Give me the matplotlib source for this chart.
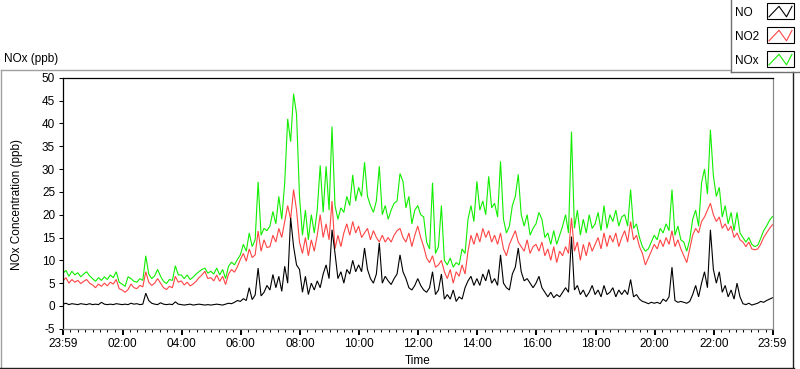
import numpy as np
import matplotlib
matplotlib.use("Agg")
import matplotlib.pyplot as plt
from matplotlib.lines import Line2D
from matplotlib.patches import Rectangle

# ---- data: 6-minute samples from 23:59 (previous day) to 23:59 ----
no_ppb = [
    0.4, 0.6, 0.3, 0.5, 0.4, 0.3, 0.5, 0.4, 0.3, 0.5,
    0.3, 0.4, 0.3, 0.8, 0.4, 0.3, 0.4, 0.3, 0.5, 0.4,
    0.3, 0.4, 0.3, 0.6, 0.4, 0.5, 0.3, 0.4, 2.8, 1.2,
    0.6, 0.4, 0.3, 0.7, 0.4, 0.3, 0.4, 0.3, 0.9, 0.4,
    0.3, 0.2, 0.3, 0.4, 0.2, 0.3, 0.4, 0.3, 0.2, 0.3,
    0.2, 0.3, 0.4, 0.3, 0.2, 0.4, 0.6, 0.5, 0.8, 1.2,
    1.0, 1.6, 1.2, 4.0, 1.4, 2.4, 8.3, 2.2, 3.0, 4.5,
    3.5, 6.9, 4.0, 6.5, 3.2, 8.7, 5.0, 19.3, 13.0, 9.0,
    8.0, 3.0, 6.5, 2.5, 5.0, 3.5, 5.5, 4.0, 7.0, 9.0,
    6.0, 16.7, 11.6, 6.0, 7.5, 5.0, 8.0, 7.0, 10.0, 7.5,
    9.0, 7.5, 12.7, 8.0, 6.0, 5.0, 7.0, 13.8, 5.0, 6.5,
    5.5, 4.7, 6.0, 7.0, 11.2, 7.5, 6.0, 4.0, 3.5, 4.5,
    6.0, 4.5, 3.5, 3.0, 4.0, 7.5, 2.5, 3.5, 7.0, 1.5,
    2.5, 1.5, 3.5, 1.0, 2.0, 1.5, 4.0, 5.5, 6.5, 4.5,
    6.0, 4.5, 7.0, 5.5, 8.0, 5.0, 6.0, 4.5, 11.2, 5.0,
    4.0, 3.5, 7.0, 8.5, 12.7, 7.5, 5.5, 6.0, 5.0, 4.0,
    5.0, 6.5, 4.0, 3.0, 2.0, 3.0, 1.8, 2.5, 2.0, 3.0,
    4.0, 3.0, 15.2, 3.5, 4.5, 2.5, 3.5, 2.0, 3.0, 4.5,
    2.5, 3.5, 2.0, 4.5, 2.5, 3.0, 4.0, 2.0, 3.5, 2.5,
    3.5, 2.5, 5.8, 2.0, 2.5, 1.5, 1.0, 0.8, 0.5, 0.8,
    0.6, 0.8, 0.5, 1.5, 1.0, 2.0, 8.5, 1.2, 0.8, 1.0,
    0.8, 0.6, 1.0, 2.5, 4.5, 2.0, 5.0, 7.5, 4.0, 16.7,
    8.0, 5.0, 7.5, 3.0, 4.5, 2.0, 3.5, 1.5, 5.0, 2.0,
    0.5, 0.3, 0.6, 0.2, 0.4, 0.6, 1.0, 0.8, 1.2, 1.5,
    1.8,
]
no2_ppb = [
    5.5, 6.2, 5.0, 5.8, 5.2, 5.6, 4.9, 5.4, 5.8, 5.0,
    4.6, 4.0, 4.8, 4.3, 5.0, 4.4, 5.2, 4.8, 5.8, 3.8,
    3.5, 3.0, 3.6, 4.8, 4.0, 3.8, 4.5, 4.2, 7.5, 5.2,
    4.5, 5.0, 6.0, 5.0, 4.0, 3.6, 4.3, 4.0, 6.5, 5.2,
    5.5, 4.6, 5.2, 4.4, 4.8, 5.4, 6.2, 6.8, 7.6, 6.0,
    6.2, 5.5, 6.8, 5.4, 6.5, 4.7, 7.0, 8.0, 7.4, 8.6,
    10.2, 11.5, 9.8, 12.5, 10.6, 11.2, 16.4, 12.0, 14.5, 12.8,
    13.0, 15.5, 14.0, 17.0, 15.0, 18.5, 22.0, 19.0, 25.5, 21.0,
    14.0, 11.5, 15.0, 11.0, 14.5, 12.0, 15.5, 20.0, 15.0, 18.0,
    14.5, 23.0, 12.5, 15.5, 13.0, 16.0, 18.0, 15.5, 18.5, 16.0,
    17.5, 15.0, 16.0, 17.0, 14.5, 16.5, 15.0, 14.0, 15.5, 14.0,
    15.0, 14.0, 15.5, 16.5, 17.0, 15.0, 14.0, 16.0, 13.0, 15.5,
    17.5, 15.0, 13.0, 10.5, 9.5, 11.0, 8.5, 9.0, 10.0, 7.5,
    6.0, 8.0, 5.0, 7.5, 6.5, 9.0, 7.0, 12.0, 15.5, 13.5,
    16.0, 14.0, 17.0, 15.0, 16.5, 14.0, 15.5, 13.5, 16.0, 12.5,
    11.0, 13.5, 15.0, 16.5, 14.0, 13.0, 12.0, 14.5, 11.5, 13.0,
    13.5, 12.0, 14.0, 11.0, 12.5, 10.0, 13.0, 9.5, 12.0, 11.0,
    13.0, 11.5, 19.3, 12.0, 14.0, 10.0, 13.5, 11.0, 14.0, 12.0,
    13.5, 15.0, 12.5, 16.0, 13.0, 15.5, 14.0, 16.0, 13.0, 15.0,
    16.5, 14.0, 18.5, 14.5, 15.5, 13.0, 11.5, 9.0, 10.5, 12.0,
    13.5, 12.5, 14.5, 13.0, 15.0, 13.5, 16.5, 13.0, 14.5, 12.5,
    11.0, 9.5, 12.5, 15.5, 17.0, 16.0, 18.5, 19.5, 21.0, 22.5,
    20.0, 18.5, 19.5, 17.0, 18.0, 16.5, 17.5, 15.0, 16.0, 14.5,
    14.0, 13.0, 14.0, 12.5, 12.3, 12.5, 13.5, 15.0, 16.0, 17.0,
    17.8,
]
nox_ppb = [
    7.2, 7.8, 6.5, 7.6, 6.8, 7.3, 6.4, 7.0, 7.5, 6.6,
    6.0, 5.4, 6.2, 5.6, 6.4, 5.8, 6.8, 6.2, 7.5, 5.2,
    4.8, 4.3, 6.4, 6.0, 5.4, 5.2, 6.0, 5.6, 11.0, 7.0,
    6.0, 6.6, 8.0, 6.5, 5.4, 4.9, 5.8, 5.6, 8.8, 6.8,
    6.8, 6.0, 6.8, 5.8, 6.3, 7.0, 7.5, 8.0, 8.3, 7.2,
    7.6, 7.0, 8.3, 6.8, 8.0, 6.0, 8.7, 9.6, 9.0, 10.2,
    11.2, 13.5, 12.0, 16.0, 13.0, 14.5, 27.2, 15.5, 17.0, 16.5,
    17.5, 20.7, 18.0, 24.0, 19.0, 27.0, 41.0, 36.0, 46.5, 42.0,
    24.0, 15.5, 21.0, 14.5, 20.0, 16.0, 21.0, 30.8, 20.5, 30.6,
    21.0, 39.3, 22.0, 19.0, 21.5, 20.5, 24.0, 22.0, 28.7, 23.0,
    26.0, 24.0, 31.5, 24.0, 22.0, 20.5, 23.0, 30.6, 20.0, 22.0,
    19.0, 21.0, 22.5, 23.0, 29.0, 27.3, 21.5, 24.0, 18.0, 21.0,
    22.0, 20.0, 19.5, 14.0, 12.5, 27.0, 11.5, 13.0, 22.0, 10.0,
    9.0, 10.5, 8.5, 9.5, 9.0, 12.5, 11.5, 19.0, 22.0, 18.5,
    27.3, 21.0, 23.0, 20.0, 28.4, 21.5, 22.5, 19.5, 31.7, 19.0,
    16.0, 17.5, 22.0, 24.0, 28.8, 20.0, 17.5, 20.0, 15.5, 17.0,
    18.0, 20.5, 19.0, 15.0, 16.0, 13.5, 16.5, 13.5, 15.5, 17.5,
    20.0, 16.0, 38.2, 17.0, 21.0, 15.5, 19.0, 16.0, 20.0, 17.0,
    18.0, 20.5, 16.5, 22.0, 17.0, 20.0, 18.5, 21.0, 17.5, 19.5,
    20.0, 17.5, 25.5, 17.0, 18.0, 15.0, 13.0, 12.0, 12.5, 14.0,
    15.5, 14.5, 17.0, 16.0, 18.0, 16.5, 25.5, 15.5, 17.5, 14.5,
    14.0, 12.0, 14.5, 19.0, 21.0, 17.5, 27.0, 30.0, 24.5, 38.6,
    28.5, 24.0, 26.0, 19.5, 22.0, 18.0, 20.5, 16.5, 20.5, 16.0,
    15.0, 14.0, 15.0, 13.5, 13.0, 13.3, 14.8, 16.5, 17.5, 18.8,
    19.6,
]
start_hour = -1 / 60          # 23:59 of the previous day
sample_step_hours = 0.1       # 6 minutes
end_hour = 23 + 59 / 60

x_tick_hours = [start_hour, 2, 4, 6, 8, 10, 12, 14, 16, 18, 20, 22, end_hour]
x_tick_labels = ["23:59", "02:00", "04:00", "06:00", "08:00", "10:00", "12:00",
                 "14:00", "16:00", "18:00", "20:00", "22:00", "23:59"]
y_ticks = [-5, 0, 5, 10, 15, 20, 25, 30, 35, 40, 45, 50]

series_names = ["NO", "NO2", "NOx"]
series_colors = ["#000000", "#ff4444", "#11ee00"]

# ---- figure ----
W, H = 800, 369
fig = plt.figure(figsize=(W / 100, H / 100), dpi=100)
fig.patch.set_facecolor("white")
FONT = "Liberation Sans"


def fx(px):
    return px / W


def fy(py):
    return 1 - py / H


time_h = start_hour + sample_step_hours * np.arange(len(no_ppb))

ax_left, ax_right, ax_top, ax_bot = 63, 772.5, 77.75, 328.8
ax = fig.add_axes([fx(ax_left), fy(ax_bot), fx(ax_right) - fx(ax_left),
                   fy(ax_top) - fy(ax_bot)])

series = {"NO": no_ppb, "NO2": no2_ppb, "NOx": nox_ppb}
for name in ["NOx", "NO2", "NO"]:
    c = series_colors[series_names.index(name)]
    ax.plot(time_h, series[name], color=c, lw=0.8, solid_joinstyle="miter")

ax.set_xlim(start_hour, end_hour)
ax.set_ylim(-5, 50)

ax.set_yticks(y_ticks)
ax.set_yticklabels([str(v) for v in y_ticks], fontfamily=FONT, fontsize=8.5)
ax.set_xticks(x_tick_hours)
ax.set_xticklabels(x_tick_labels, fontfamily=FONT, fontsize=8.5)

minor = []
bounds = x_tick_hours
for a, b in zip(bounds[:-1], bounds[1:]):
    for k in range(1, 8):
        minor.append(a + 0.25 * k)
ax.set_xticks(minor, minor=True)

ax.tick_params(axis="y", direction="out", length=3.2, width=0.75, pad=2.5,
               colors="black")
ax.tick_params(axis="x", which="major", direction="out", length=4.3, width=1.4,
               pad=2.2, colors="black")
ax.tick_params(axis="x", which="minor", direction="out", length=2.4, width=0.75,
               colors="black")

ax.spines["left"].set_color("black")
ax.spines["top"].set_color("black")
ax.spines["right"].set_color("#8a8a8a")
ax.spines["bottom"].set_color("#8a8a8a")
for s in ax.spines.values():
    s.set_linewidth(0.9)

fig.text(fx(17), fy(205), "NOx Concentration (ppb)", rotation=90,
         ha="center", va="center", fontfamily=FONT, fontsize=8.5)
fig.text(fx(418), fy(361), "Time", ha="center", va="center",
         fontfamily=FONT, fontsize=8.5)
fig.text(fx(4), fy(59), "NOx (ppb)", ha="left", va="center",
         fontfamily=FONT, fontsize=8.5)

# outer frame
def fline(x0, y0, x1, y1, color, lw=1.0):
    fig.add_artist(Line2D([fx(x0), fx(x1)], [fy(y0), fy(y1)],
                          transform=fig.transFigure, color=color, lw=lw))

fline(0.5, 69.5, 730, 69.5, "#a0a0a0")
fline(0.5, 69.5, 0.5, 368, "#a0a0a0")
fline(0, 367.7, 794, 367.7, "#202020")
fline(793.3, 72, 793.3, 368, "#202020")

# legend box
fig.add_artist(Rectangle((fx(730), fy(72)), fx(800) - fx(730), fy(0) - fy(72),
                         transform=fig.transFigure, facecolor="white",
                         edgecolor="none"))
fline(730.5, 0, 730.5, 72, "#707070")
fline(730.5, 71.7, 800, 71.7, "#707070")

box_tops = [3.3, 27.3, 51.3]
label_y = [13.3, 37, 60.5]
for name, col, top, ly in zip(series_names, series_colors, box_tops, label_y):
    fig.text(fx(735), fy(ly), name, ha="left", va="center",
             fontfamily=FONT, fontsize=8.5)
    fig.add_artist(Rectangle((fx(766.7), fy(top + 16)), fx(794) - fx(766.7),
                             fy(top) - fy(top + 16), transform=fig.transFigure,
                             facecolor="white", edgecolor="black", lw=0.8))
    zx = [769, 779, 786.5, 792]
    zy = [top + 13.5, top + 3, top + 13.5, top + 3]
    fig.add_artist(Line2D([fx(v) for v in zx], [fy(v) for v in zy],
                          transform=fig.transFigure, color=col, lw=0.8))

fig.savefig("out.png", dpi=100, facecolor="white")
